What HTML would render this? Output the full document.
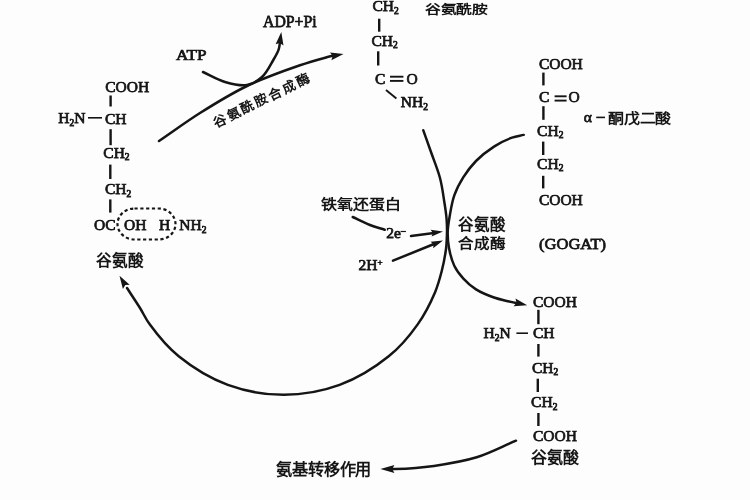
<!DOCTYPE html>
<html lang="zh-CN"><head><meta charset="utf-8">
<style>
html,body{margin:0;padding:0;background:#fdfdfd;width:750px;height:500px;overflow:hidden}
svg{display:block;filter:blur(0.3px)}
text{font-family:"Liberation Serif",serif;fill:#151515;stroke:#151515;stroke-width:0.75}
.cj{font-weight:bold;stroke-width:0}
.cv{fill:none;stroke:#151515;stroke-linecap:round}
.bd{stroke:#151515}
.ah{fill:#151515}
.dash{fill:none;stroke:#151515;stroke-width:2.2;stroke-dasharray:3.2 2.6}
</style></head><body>
<svg width="750" height="500" viewBox="0 0 750 500">
<text font-size="15.22" transform="translate(176.00,59.70) scale(1.1265,1)" class="lt" stroke-width="0.707" >ATP</text>
<text font-size="16.09" transform="translate(263.00,27.28) scale(0.9810,1)" class="lt" stroke-width="0.757" >ADP+Pi</text>
<path d="M203.0,72.0 C210.3,75.3 217.5,79.8 225.0,82.0 C232.2,84.1 240.5,86.2 247.0,85.0 C252.7,84.0 257.7,80.9 262.0,77.0 C266.7,72.8 270.3,65.1 273.3,60.0 C275.6,56.1 277.6,52.6 278.7,49.3 C279.6,46.7 279.6,44.4 280.0,42.0" stroke-width="2.5" class="cv"/>
<path d="M281.3,32.0 L283.5,45.4 L279.8,42.9 L275.6,44.3 Z" class="ah"/>
<path d="M159.0,141.0 C172.7,131.7 185.7,122.0 200.0,113.0 C215.0,103.6 230.6,93.9 247.0,86.0 C263.8,77.9 285.2,70.4 300.0,65.3 C310.3,61.7 320.1,59.1 326.7,57.3 C330.6,56.2 332.9,55.8 336.0,55.0" stroke-width="2.5" class="cv"/>
<path d="M343.5,54.0 L331.4,60.3 L332.6,56.0 L330.0,52.4 Z" class="ah"/>
<text font-size="13.2" letter-spacing="2.4" transform="translate(215.7,127.5) rotate(-25.9)" class="cj">谷氨酰胺合成酶</text>
<text x="105.20" y="91.86" font-size="15.5" >COOH</text>
<line x1="110.6" y1="95.5" x2="110.6" y2="106.5" stroke-width="2.4" class="bd"/>
<text x="58.30" y="123.06" font-size="15.5" >H<tspan font-size="9.5" dy="2.5">2</tspan><tspan dy="-2.5">N</tspan></text>
<line x1="88" y1="117.8" x2="102" y2="117.8" stroke-width="1.6" class="bd"/>
<text x="104.90" y="123.56" font-size="15.5" >CH</text>
<line x1="110.6" y1="129.2" x2="110.6" y2="145.2" stroke-width="2.4" class="bd"/>
<text x="103.30" y="157.66" font-size="15.5" >CH<tspan font-size="9.5" dy="2.5">2</tspan></text>
<line x1="110.3" y1="164.6" x2="110.3" y2="179" stroke-width="2.4" class="bd"/>
<text x="104.90" y="194.06" font-size="15.5" >CH<tspan font-size="9.5" dy="2.5">2</tspan></text>
<line x1="110.3" y1="199.4" x2="110.3" y2="212.6" stroke-width="2.4" class="bd"/>
<text x="94.10" y="230.06" font-size="15.5" >OC</text>
<text x="124.10" y="230.06" font-size="15.5" >OH</text>
<text x="158.90" y="230.06" font-size="15.5" >H</text>
<text x="179.30" y="230.06" font-size="15.5" >NH<tspan font-size="9.5" dy="2.5">2</tspan></text>
<rect x="117.5" y="208.5" width="58" height="31" rx="17" ry="15.5" class="dash"/>
<text font-size="15.83" transform="translate(96.09,265.62) scale(0.9834,1)" class="cj" >谷氨酸</text>
<text x="372.50" y="11.26" font-size="15.5" >CH<tspan font-size="9.5" dy="2.5">2</tspan></text>
<line x1="379.2" y1="18.7" x2="379.2" y2="31.7" stroke-width="2.4" class="bd"/>
<text x="371.50" y="45.76" font-size="15.5" >CH<tspan font-size="9.5" dy="2.5">2</tspan></text>
<line x1="378.2" y1="51.3" x2="378.2" y2="65.5" stroke-width="2.4" class="bd"/>
<text x="374.90" y="83.66" font-size="15.5" >C</text>
<line x1="390" y1="76.7" x2="403.4" y2="76.7" stroke-width="1.9" class="bd"/>
<line x1="390" y1="80.9" x2="403.4" y2="80.9" stroke-width="1.9" class="bd"/>
<text x="406.50" y="83.66" font-size="15.5" >O</text>
<line x1="386" y1="90" x2="396.4" y2="98.4" stroke-width="1.9" class="bd"/>
<text x="400.80" y="107.26" font-size="15.5" >NH<tspan font-size="9.5" dy="2.5">2</tspan></text>
<text font-size="12.16" transform="translate(424.98,14.16) scale(1.2995,1)" class="cj" >谷氨酰胺</text>
<text x="538.90" y="69.26" font-size="15.5" >COOH</text>
<line x1="543.4" y1="72.6" x2="543.4" y2="85.4" stroke-width="2.4" class="bd"/>
<text x="538.90" y="102.26" font-size="15.5" >C</text>
<line x1="554.6" y1="96.3" x2="566.6" y2="96.3" stroke-width="1.9" class="bd"/>
<line x1="554.6" y1="100.6" x2="566.6" y2="100.6" stroke-width="1.9" class="bd"/>
<text x="568.50" y="102.26" font-size="15.5" >O</text>
<line x1="543.4" y1="106.2" x2="543.4" y2="119.8" stroke-width="2.4" class="bd"/>
<text x="583.70" y="122.26" font-size="15.5" >α</text>
<line x1="596.2" y1="117.4" x2="605" y2="117.4" stroke-width="1.6" class="bd"/>
<text font-size="14.17" transform="translate(607.92,122.58) scale(1.1237,1)" class="cj" >酮戊二酸</text>
<text x="537.10" y="135.66" font-size="15.5" >CH<tspan font-size="9.5" dy="2.5">2</tspan></text>
<line x1="543.2" y1="141.6" x2="543.2" y2="155" stroke-width="2.4" class="bd"/>
<text x="537.10" y="168.96" font-size="15.5" >CH<tspan font-size="9.5" dy="2.5">2</tspan></text>
<line x1="543.2" y1="175.8" x2="543.2" y2="188.4" stroke-width="2.4" class="bd"/>
<text x="538.90" y="205.46" font-size="15.5" >COOH</text>
<text font-size="13.67" transform="translate(320.98,209.06) scale(1.1671,1)" class="cj" >铁氧还蛋白</text>
<path d="M352.7,217.0 C358.5,219.7 364.4,222.8 370.0,225.0 C375.0,227.0 379.8,228.2 384.7,229.8" stroke-width="2.5" class="cv"/>
<text x="386.30" y="238.26" font-size="15.5" >2e<tspan font-size="9" dy="-5">–</tspan></text>
<path d="M411,236 L434,233" stroke-width="2.5" class="cv"/>
<path d="M443.0,231.5 L431.6,236.6 L432.9,232.9 L430.6,229.7 Z" class="ah"/>
<text x="358.50" y="269.76" font-size="15.5" >2H<tspan font-size="9" dy="-5">+</tspan></text>
<path d="M393,260.7 L434,244" stroke-width="2.5" class="cv"/>
<path d="M443.0,240.5 L433.2,248.2 L433.5,244.3 L430.6,241.7 Z" class="ah"/>
<text font-size="15.62" transform="translate(458.19,229.94) scale(0.9879,1)" class="cj" >谷氨酸</text>
<text font-size="13.78" transform="translate(458.19,247.98) scale(1.1320,1)" class="cj" >合成酶</text>
<text font-size="15.53" transform="translate(539.11,249.43) scale(1.0623,1)" class="lt" stroke-width="0.728" >(GOGAT)</text>
<path d="M423.3,130.3 C425.9,137.5 428.3,144.4 431.0,152.0 C433.9,160.3 437.8,169.5 440.0,178.0 C442.1,185.9 443.1,194.1 444.2,201.2 C445.2,207.2 446.0,212.6 446.5,218.0 C446.9,222.9 447.1,227.1 447.0,232.0 C446.9,237.4 446.8,243.0 446.0,249.0 C445.1,255.8 443.6,263.6 441.8,270.8 C440.0,277.9 438.4,284.2 435.2,291.9 C431.0,301.8 424.9,314.2 417.5,324.6 C409.6,335.8 400.5,346.8 388.7,356.3 C375.2,367.2 357.1,378.5 339.6,384.9 C322.1,391.3 302.3,394.8 283.7,394.8 C265.1,394.8 245.3,391.3 227.8,384.9 C210.3,378.5 192.2,367.2 178.7,356.3 C166.9,346.8 156.6,333.8 149.9,324.6 C145.3,318.4 143.6,313.8 140.0,308.0 C136.0,301.6 131.3,294.7 127.0,288.0" stroke-width="2.5" class="cv"/>
<path d="M119.5,275.7 L129.7,284.7 L125.3,285.1 L122.9,288.9 Z" class="ah"/>
<path d="M523.7,134.9 C519.8,135.8 516.2,136.1 512.0,137.6 C506.5,139.6 499.8,142.9 494.0,146.6 C487.8,150.6 481.2,155.7 476.0,161.0 C471.1,166.0 467.0,171.5 463.4,177.2 C459.8,182.9 456.6,188.9 454.4,195.2 C452.1,201.5 451.0,208.6 449.9,215.0 C448.9,220.9 447.8,226.4 447.7,232.0 C447.6,237.4 448.0,242.6 449.0,248.0 C450.1,253.9 451.8,260.7 454.4,266.0 C456.7,270.8 459.9,274.8 463.4,278.6 C467.0,282.6 471.2,286.3 476.0,289.4 C481.3,292.7 488.3,295.5 494.0,297.5 C498.9,299.2 504.0,300.2 508.0,301.2 C511.0,301.9 513.3,302.4 516.0,303.0" stroke-width="2.5" class="cv"/>
<path d="M527.2,305.3 L513.6,306.2 L516.5,302.7 L515.5,298.4 Z" class="ah"/>
<text x="533.00" y="307.46" font-size="15.5" >COOH</text>
<line x1="538.4" y1="309.8" x2="538.4" y2="324.2" stroke-width="2.4" class="bd"/>
<text x="483.50" y="338.06" font-size="15.5" >H<tspan font-size="9.5" dy="2.5">2</tspan><tspan dy="-2.5">N</tspan></text>
<line x1="516.4" y1="333.2" x2="528" y2="333.2" stroke-width="1.6" class="bd"/>
<text x="533.00" y="338.06" font-size="15.5" >CH</text>
<line x1="538.4" y1="344" x2="538.4" y2="356.6" stroke-width="2.4" class="bd"/>
<text x="532.00" y="372.86" font-size="15.5" >CH<tspan font-size="9.5" dy="2.5">2</tspan></text>
<line x1="537.8" y1="378.7" x2="537.8" y2="392" stroke-width="2.4" class="bd"/>
<text x="531.10" y="407.06" font-size="15.5" >CH<tspan font-size="9.5" dy="2.5">2</tspan></text>
<line x1="538.4" y1="413" x2="538.4" y2="426" stroke-width="2.4" class="bd"/>
<text x="533.00" y="441.26" font-size="15.5" >COOH</text>
<text font-size="16.15" transform="translate(531.38,462.89) scale(0.9872,1)" class="cj" >谷氨酸</text>
<path d="M516.0,440.7 C502.9,446.2 490.3,453.1 476.7,457.3 C463.0,461.5 447.9,463.9 434.0,465.9 C420.9,467.7 401.6,468.8 395.6,469.0 C393.8,469.1 393.2,469.0 392.0,469.0" stroke-width="2.5" class="cv"/>
<path d="M380.4,469.0 L394.4,465.0 L392.3,469.0 L394.4,473.0 Z" class="ah"/>
<text font-size="16.49" transform="translate(276.24,474.99) scale(0.9799,1)" class="cj" >氨基转移作用</text>
</svg>
</body></html>
